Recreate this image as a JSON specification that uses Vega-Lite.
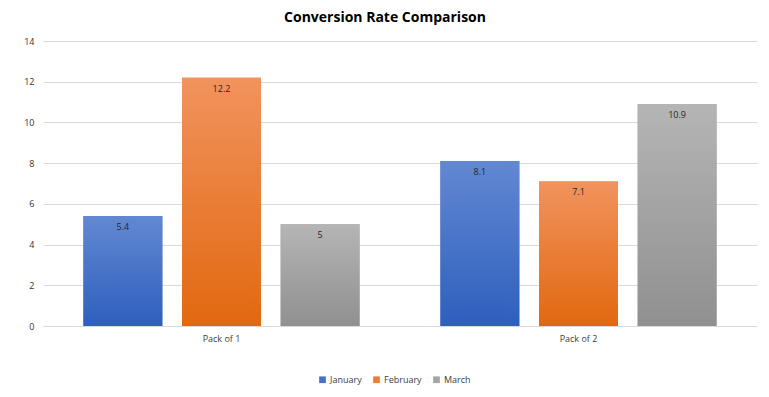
{
  "$schema": "https://vega.github.io/schema/vega-lite/v6.json",
  "autosize": {"type": "none"},
  "width": 714,
  "height": 285,
  "padding": {"left": 43, "top": 41, "right": 12, "bottom": 71},
  "background": "white",
  "title": {
    "text": "Conversion Rate Comparison",
    "font": "Open Sans",
    "fontSize": 14,
    "fontWeight": "bold",
    "color": "#000000",
    "anchor": "middle",
    "dx": -15,
    "offset": 12
  },
  "data": {
    "values": [
      {"pack": "Pack of 1", "month": "January", "rate": 5.4},
      {"pack": "Pack of 1", "month": "February", "rate": 12.2},
      {"pack": "Pack of 1", "month": "March", "rate": 5},
      {"pack": "Pack of 2", "month": "January", "rate": 8.1},
      {"pack": "Pack of 2", "month": "February", "rate": 7.1},
      {"pack": "Pack of 2", "month": "March", "rate": 10.9}
    ]
  },
  "encoding": {
    "x": {
      "field": "pack", "type": "nominal",
      "scale": {"paddingInner": 0, "paddingOuter": 0},
      "axis": {"title": null, "labelAngle": 0, "domain": false, "ticks": false, "labelPadding": 8, "labelFontSize": 9, "labelColor": "#404040", "labelFont": "Open Sans"}
    },
    "xOffset": {
      "field": "month", "type": "nominal",
      "scale": {"domain": ["January", "February", "March"], "paddingInner": 0.2, "paddingOuter": 0.41}
    },
    "y": {
      "field": "rate", "type": "quantitative",
      "scale": {"domain": [0, 14], "nice": false},
      "axis": {"title": null, "values": [0, 2, 4, 6, 8, 10, 12, 14], "labelOverlap": false, "domain": false, "ticks": false, "labelPadding": 9, "labelFontSize": 9, "labelColor": "#333333", "labelFont": "Open Sans", "gridColor": "#d9d9d9", "gridWidth": 1}
    }
  },
  "layer": [
    {
      "mark": {"type": "bar"},
      "encoding": {
        "color": {
          "field": "month", "type": "nominal",
          "scale": {"domain": ["January", "February", "March"], "range": ["#4472c4", "#ed7d31", "#a5a5a5"]},
          "legend": {
            "title": null, "orient": "none", "direction": "horizontal",
            "legendX": 275, "legendY": 334,
            "symbolType": "square", "symbolSize": 45, "symbolOpacity": 1, "symbolStrokeWidth": 0,
            "labelFontSize": 9, "labelColor": "#404040", "labelFont": "Open Sans",
            "columnPadding": 10, "symbolOffset": 0, "labelOffset": 3
          }
        }
      }
    },
    {
      "transform": [{"filter": "datum.month === 'January'"}],
      "mark": {"type": "bar", "fill": {"gradient": "linear", "x1": 0, "y1": 0, "x2": 0, "y2": 1, "stops": [{"offset": 0, "color": "#6288d2"}, {"offset": 1, "color": "#2e5fbd"}]}}
    },
    {
      "transform": [{"filter": "datum.month === 'February'"}],
      "mark": {"type": "bar", "fill": {"gradient": "linear", "x1": 0, "y1": 0, "x2": 0, "y2": 1, "stops": [{"offset": 0, "color": "#f1935e"}, {"offset": 1, "color": "#e26810"}]}}
    },
    {
      "transform": [{"filter": "datum.month === 'March'"}],
      "mark": {"type": "bar", "fill": {"gradient": "linear", "x1": 0, "y1": 0, "x2": 0, "y2": 1, "stops": [{"offset": 0, "color": "#b5b5b5"}, {"offset": 1, "color": "#909090"}]}}
    },
    {
      "mark": {"type": "text", "baseline": "middle", "dy": 11, "fontSize": 9, "font": "Open Sans", "color": "#262626"},
      "encoding": {"text": {"field": "rate", "type": "quantitative"}}
    }
  ],
  "config": {"view": {"stroke": null}}
}
